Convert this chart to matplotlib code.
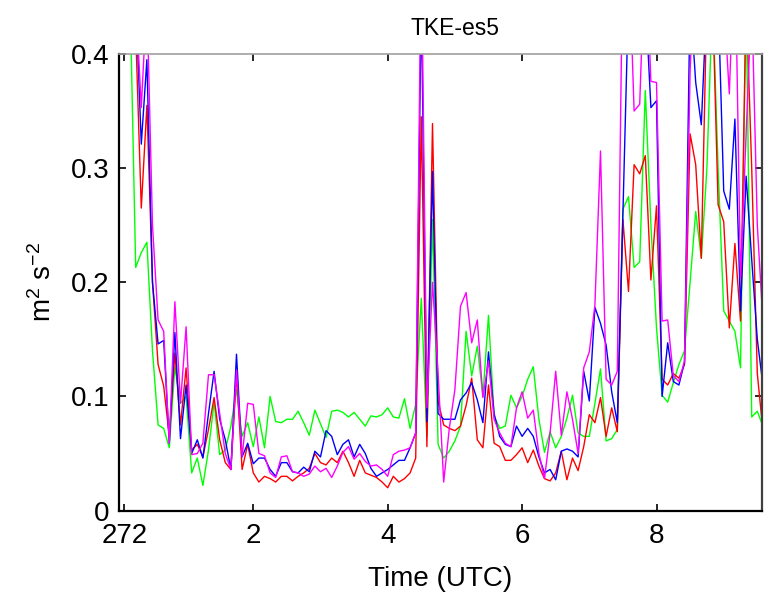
import matplotlib
matplotlib.use('Agg')
import matplotlib.pyplot as plt
import numpy as np

plt.rcParams['font.family'] = ['Liberation Sans', 'DejaVu Sans']
plt.rcParams['mathtext.default'] = 'regular'

# 5-minute samples, hours after start of day 272
n_samples = 116
hours = np.arange(n_samples) / 12.0

tke_red = [
    0.60, 0.55, 0.50, 0.42, 0.265, 0.355, 0.20, 0.128, 0.109, 0.065,
    0.138, 0.075, 0.125, 0.053, 0.058, 0.047, 0.071, 0.099, 0.062, 0.042,
    0.036, 0.120, 0.036, 0.058, 0.033, 0.025, 0.030, 0.028, 0.025, 0.030,
    0.030, 0.026, 0.030, 0.033, 0.037, 0.050, 0.042, 0.040, 0.046, 0.042,
    0.052, 0.042, 0.030, 0.044, 0.033, 0.031, 0.029, 0.025, 0.020, 0.030,
    0.025, 0.028, 0.033, 0.046, 0.345, 0.056, 0.339, 0.096, 0.075, 0.072,
    0.070, 0.074, 0.092, 0.116, 0.062, 0.055, 0.110, 0.059, 0.056, 0.044,
    0.044, 0.049, 0.055, 0.042, 0.053, 0.039, 0.028, 0.026, 0.033, 0.052,
    0.027, 0.046, 0.035, 0.056, 0.084, 0.077, 0.099, 0.065, 0.090, 0.069,
    0.255, 0.192, 0.303, 0.295, 0.311, 0.202, 0.267, 0.115, 0.110, 0.120,
    0.116, 0.128, 0.330, 0.303, 0.221, 0.45, 0.45, 0.268, 0.253, 0.160,
    0.234, 0.166, 0.45, 0.30, 0.12, 0.07,
]

tke_green = [
    0.60, 0.55, 0.45, 0.213, 0.226, 0.235, 0.14, 0.075, 0.072, 0.055,
    0.126, 0.094, 0.100, 0.033, 0.046, 0.022, 0.053, 0.095, 0.049, 0.053,
    0.074, 0.106, 0.065, 0.077, 0.056, 0.082, 0.055, 0.100, 0.078, 0.077,
    0.080, 0.080, 0.087, 0.077, 0.066, 0.088, 0.076, 0.064, 0.087, 0.088,
    0.086, 0.082, 0.086, 0.080, 0.074, 0.083, 0.082, 0.084, 0.090, 0.082,
    0.081, 0.098, 0.072, 0.093, 0.186, 0.065, 0.255, 0.058, 0.046, 0.052,
    0.061, 0.074, 0.157, 0.118, 0.144, 0.100, 0.171, 0.083, 0.072, 0.074,
    0.101, 0.090, 0.100, 0.115, 0.126, 0.080, 0.051, 0.069, 0.055, 0.065,
    0.081, 0.101, 0.068, 0.065, 0.065, 0.094, 0.124, 0.061, 0.063, 0.071,
    0.264, 0.275, 0.213, 0.218, 0.368, 0.25, 0.16, 0.101, 0.095, 0.112,
    0.128, 0.14, 0.20, 0.262, 0.221, 0.30, 0.45, 0.30, 0.175, 0.166,
    0.157, 0.125, 0.45, 0.082, 0.087, 0.074,
]

tke_blue = [
    0.60, 0.55, 0.50, 0.45, 0.321, 0.395, 0.20, 0.146, 0.149, 0.059,
    0.156, 0.063, 0.110, 0.050, 0.062, 0.046, 0.085, 0.122, 0.080, 0.062,
    0.036, 0.137, 0.047, 0.059, 0.041, 0.046, 0.046, 0.036, 0.030, 0.042,
    0.042, 0.034, 0.033, 0.038, 0.034, 0.052, 0.047, 0.070, 0.065, 0.049,
    0.058, 0.062, 0.047, 0.058, 0.050, 0.037, 0.030, 0.033, 0.036, 0.040,
    0.044, 0.044, 0.055, 0.068, 0.45, 0.078, 0.297, 0.085, 0.080, 0.080,
    0.080, 0.097, 0.103, 0.112, 0.097, 0.077, 0.139, 0.085, 0.065, 0.058,
    0.056, 0.074, 0.065, 0.072, 0.065, 0.047, 0.033, 0.036, 0.027, 0.052,
    0.054, 0.052, 0.047, 0.122, 0.096, 0.178, 0.164, 0.145, 0.104, 0.077,
    0.26, 0.45, 0.42, 0.45, 0.45, 0.353, 0.359, 0.100, 0.147, 0.113,
    0.110, 0.13, 0.45, 0.375, 0.338, 0.45, 0.45, 0.45, 0.28, 0.264,
    0.343, 0.175, 0.293, 0.22, 0.15, 0.11,
]

tke_magenta = [
    0.60, 0.55, 0.50, 0.45, 0.353, 0.45, 0.25, 0.167, 0.157, 0.059,
    0.183, 0.094, 0.161, 0.049, 0.050, 0.059, 0.119, 0.119, 0.085, 0.050,
    0.036, 0.123, 0.047, 0.094, 0.093, 0.050, 0.048, 0.033, 0.029, 0.047,
    0.048, 0.034, 0.033, 0.030, 0.032, 0.039, 0.034, 0.037, 0.029, 0.039,
    0.051, 0.056, 0.045, 0.050, 0.043, 0.039, 0.040, 0.036, 0.030, 0.049,
    0.052, 0.053, 0.055, 0.068, 0.50, 0.09, 0.20, 0.12, 0.025, 0.072,
    0.106, 0.179, 0.191, 0.147, 0.167, 0.099, 0.131, 0.080, 0.068, 0.059,
    0.056, 0.090, 0.104, 0.081, 0.088, 0.050, 0.028, 0.068, 0.122, 0.066,
    0.104, 0.080, 0.050, 0.125, 0.139, 0.180, 0.315, 0.115, 0.110, 0.122,
    0.50, 0.50, 0.35, 0.356, 0.50, 0.376, 0.375, 0.166, 0.167, 0.118,
    0.113, 0.131, 0.385, 0.50, 0.50, 0.50, 0.50, 0.50, 0.45, 0.365,
    0.50, 0.204, 0.33, 0.45, 0.25, 0.166,
]

xtick_pos = [0.08, 2, 4, 6, 8]
xtick_labels = ['272', '2', '4', '6', '8']
ytick_pos = [0, 0.1, 0.2, 0.3, 0.4]
ytick_labels = ['0', '0.1', '0.2', '0.3', '0.4']

fig = plt.figure(figsize=(7.67, 5.93), dpi=100)
ax = fig.add_axes([0.155, 0.139, 0.8385, 0.770])

series = [
    (tke_green, '#00ff00'),
    (tke_red, '#ff0000'),
    (tke_blue, '#0000ff'),
    (tke_magenta, '#ff00ff'),
]
for vals, col in series:
    ax.plot(hours, vals, color=col, lw=1.0)

ax.set_xlim(0, 9.57)
ax.set_ylim(0, 0.4)
ax.set_xticks(xtick_pos)
ax.set_xticklabels(xtick_labels)
ax.set_yticks(ytick_pos)
ax.set_yticklabels(ytick_labels)

ax.tick_params(direction='in', length=5, width=1.2, top=True, right=True,
               labelsize=20)
ax.tick_params(axis='x', pad=9)
ax.tick_params(axis='y', pad=7)

ax.spines['left'].set_linewidth(1.6)
ax.spines['bottom'].set_linewidth(1.6)
ax.spines['top'].set_color('#a0a0a0')
ax.spines['top'].set_linewidth(1.2)
ax.spines['right'].set_color('#404040')
ax.spines['right'].set_linewidth(1.6)

ax.set_title('TKE-es5', fontsize=16.5, x=0.522, pad=14)
ax.set_xlabel('Time (UTC)', fontsize=20, labelpad=12)
ax.set_ylabel(r'm$^2$ s$^{-2}$', fontsize=20, labelpad=10)

fig.savefig('out.png', dpi=100)
